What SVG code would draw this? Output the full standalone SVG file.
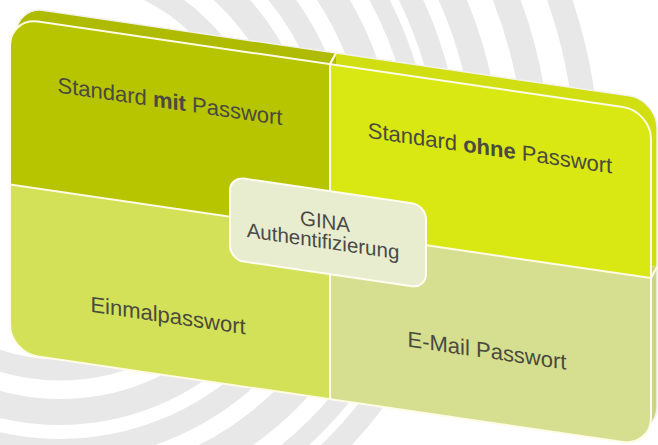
<svg xmlns="http://www.w3.org/2000/svg" width="658" height="445" viewBox="0 0 658 445">
<defs>
<style>
.lbl{font-family:"Liberation Sans",Arial,sans-serif;font-size:22px;fill:#4a4a3e;text-anchor:middle}
.ctr{font-size:20.5px;fill:#4a4a44}
.b{font-weight:bold}
.ring{fill:none;stroke:#e8e8e8}
.div{stroke:#fffbe6;stroke-width:2;fill:none}
</style>
<clipPath id="face"><rect x="10" y="16" width="641" height="335" rx="28"/></clipPath>
<clipPath id="back"><rect x="16" y="4" width="641" height="335" rx="28"/></clipPath>
<clipPath id="topOnly"><rect x="0" y="0" width="658" height="250"/></clipPath>
</defs>
<rect width="658" height="445" fill="#ffffff"/>
<g id="watermark" class="ring">
<circle cx="60" cy="170" r="200" stroke-width="21"/>
<circle cx="60" cy="170" r="242" stroke-width="26"/>
<circle cx="60" cy="170" r="280" stroke-width="22"/>
<circle cx="60" cy="170" r="322" stroke-width="28"/>
<circle cx="60" cy="170" r="362" stroke-width="18"/>
<circle cx="60" cy="170" r="390" stroke-width="22"/>
<g clip-path="url(#topOnly)">
<circle cx="60" cy="170" r="428" stroke-width="26"/>
<circle cx="60" cy="170" r="478" stroke-width="26"/>
<circle cx="60" cy="170" r="528" stroke-width="24"/>
</g>
</g>
<g id="card" transform="matrix(1,0.146,0,1,0,0)">
<g id="card-edge" clip-path="url(#back)">
<rect x="0" y="0" width="336" height="400" fill="#aebb00"/>
<rect x="336" y="0" width="330" height="171" fill="#d1de12"/>
<rect x="336" y="171" width="330" height="200" fill="#cbd588"/>
</g>
<rect x="16" y="4" width="641" height="335" rx="28" fill="none" stroke="#f2f2ea" stroke-width="1.5"/>
<g clip-path="url(#face)">
<g id="q-standard-mit"><rect x="10" y="16" width="320" height="167" fill="#b7c400"/></g>
<g id="q-standard-ohne"><rect x="330" y="16" width="321" height="167" fill="#d9e713"/></g>
<g id="q-einmal"><rect x="10" y="183" width="320" height="168" fill="#d3e158"/></g>
<g id="q-email"><rect x="330" y="183" width="321" height="168" fill="#d6df8f"/></g>
</g>
<g id="dividers" class="div">
<line x1="330" y1="16" x2="330" y2="351"/>
<line x1="10" y1="183" x2="651" y2="183"/>
<line x1="330" y1="16" x2="336" y2="4"/>
<line x1="651" y1="183" x2="657" y2="171"/>
<rect x="10" y="16" width="641" height="335" rx="28"/>
</g>
<text class="lbl" x="170" y="84">Standard <tspan class="b">mit</tspan> Passwort</text>
<text class="lbl" x="490" y="84">Standard <tspan class="b">ohne</tspan> Passwort</text>
<text class="lbl" x="168" y="298.5">Einmalpasswort</text>
<text class="lbl" x="487" y="287">E-Mail Passwort</text>
<g id="center-box">
<rect x="230" y="143" width="196" height="83" rx="14" fill="#e9edd0" stroke="#fffdf0" stroke-width="2"/>
<text class="lbl ctr" x="325" y="181">GINA</text>
<text class="lbl ctr" x="323" y="201">Authentifizierung</text>
</g>
</g>
</svg>
